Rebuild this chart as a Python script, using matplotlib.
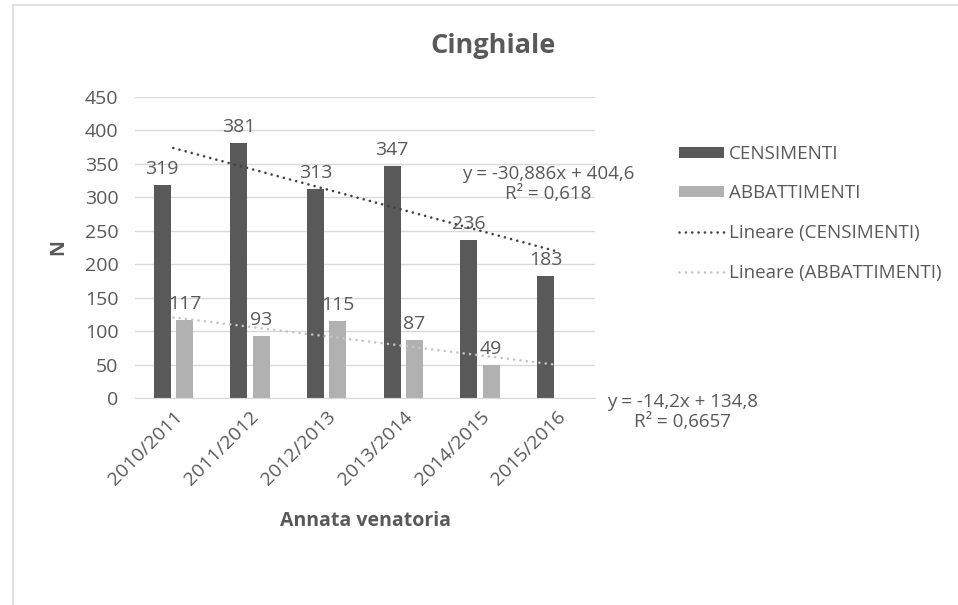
import numpy as np
import matplotlib
matplotlib.use("Agg")
import matplotlib.pyplot as plt
from matplotlib.lines import Line2D
from matplotlib.patches import Patch

# dati
stagioni = ["2010/2011", "2011/2012", "2012/2013", "2013/2014", "2014/2015", "2015/2016"]
censimenti = [319, 381, 313, 347, 236, 183]
abbattimenti = [117, 93, 115, 87, 49, np.nan]

DARK = "#595959"
LIGHT = "#b1b1b1"
TXT = "#595959"
TR_DARK = "#404040"
TR_LIGHT = "#c4c4c4"
DOTS = (0, (0.01, 2.4))

plt.rcParams["font.family"] = ["Open Sans", "DejaVu Sans"]

fig = plt.figure(figsize=(9.58, 6.05), dpi=100)
ax = fig.add_axes([135 / 958, 1 - 398 / 605, 460 / 958, 301 / 605])

x = np.arange(1, len(stagioni) + 1)
w = 0.22
off = 0.145
ax.bar(x - off, censimenti, width=w, color=DARK, zorder=2)
ax.bar(x + off, abbattimenti, width=w, color=LIGHT, zorder=2)

# etichette dati
for xi, v in zip(x, censimenti):
    ax.annotate(f"{v}", (xi - off, v), xytext=(0, 5), textcoords="offset points",
                ha="center", va="bottom", fontsize=14, color=TXT, zorder=4)
for xi, v in zip(x, abbattimenti):
    if np.isnan(v):
        continue
    ax.annotate(f"{v:.0f}", (xi + off, v), xytext=(0, 5), textcoords="offset points",
                ha="center", va="bottom", fontsize=14, color=TXT, zorder=4)

# linee di tendenza
def trend(vals):
    vals = np.array(vals, dtype=float)
    m = ~np.isnan(vals)
    k, q = np.polyfit(x[m], vals[m], 1)
    return k * x + q

ax.plot(x, trend(censimenti), linestyle=DOTS, color=TR_DARK, lw=1.9,
        dash_capstyle="round", zorder=3)
ax.plot(x, trend(abbattimenti), linestyle=DOTS, color=TR_LIGHT, lw=1.9,
        dash_capstyle="round", zorder=3)

ax.set_xlim(0.5, len(stagioni) + 0.5)
ax.set_ylim(0, 450)
ax.set_yticks(np.arange(0, 451, 50))
ax.grid(axis="y", color="#d9d9d9", lw=1, zorder=0)
ax.set_axisbelow(True)
for s in ["top", "right", "left"]:
    ax.spines[s].set_visible(False)
ax.spines["bottom"].set_color("#d9d9d9")
ax.tick_params(length=0, labelsize=14, labelcolor=TXT, pad=7)
ax.tick_params(axis="y", pad=12)
ax.set_xticks(x)
ax.set_xticklabels(stagioni, rotation=45, ha="right", rotation_mode="anchor")

ax.set_ylabel("N", fontsize=14, fontweight="bold", color=TXT, labelpad=12)
ax.set_xlabel("Annata venatoria", fontsize=14, fontweight="bold", color=TXT, labelpad=16)

fig.text(493 / 958, 1 - 46 / 605, "Cinghiale", ha="center", va="center",
         fontsize=19.5, fontweight="bold", color=TXT)

# equazioni
fig.text(548 / 958, 1 - 184 / 605, "y = -30,886x + 404,6\nR² = 0,618", ha="center",
         va="center", fontsize=13.5, color=TXT, linespacing=1.1, multialignment="center")
fig.text(683 / 958, 1 - 412 / 605, "y = -14,2x + 134,8\nR² = 0,6657", ha="center",
         va="center", fontsize=13.5, color=TXT, linespacing=1.1, multialignment="center")

handles = [
    Patch(facecolor=DARK, edgecolor="none"),
    Patch(facecolor=LIGHT, edgecolor="none"),
    Line2D([], [], color=TR_DARK, lw=1.9, linestyle=DOTS, dash_capstyle="round"),
    Line2D([], [], color=TR_LIGHT, lw=1.9, linestyle=DOTS, dash_capstyle="round"),
]
labels = ["CENSIMENTI", "ABBATTIMENTI", "Lineare (CENSIMENTI)", "Lineare (ABBATTIMENTI)"]
leg = fig.legend(handles, labels, loc="upper left", bbox_to_anchor=(662 / 958, 1 - 128 / 605),
                 frameon=False, fontsize=13.5, labelcolor=TXT, handlelength=2.4,
                 handleheight=0.5, handletextpad=0.25, labelspacing=1.15)

# cornice
fig.add_artist(Line2D([13 / 958, 1], [1 - 5 / 605, 1 - 5 / 605], color="#d9d9d9", lw=1.2))
fig.add_artist(Line2D([13 / 958, 13 / 958], [0, 1 - 5 / 605], color="#d9d9d9", lw=1.2))

fig.savefig("out.png", dpi=100, facecolor="white")
